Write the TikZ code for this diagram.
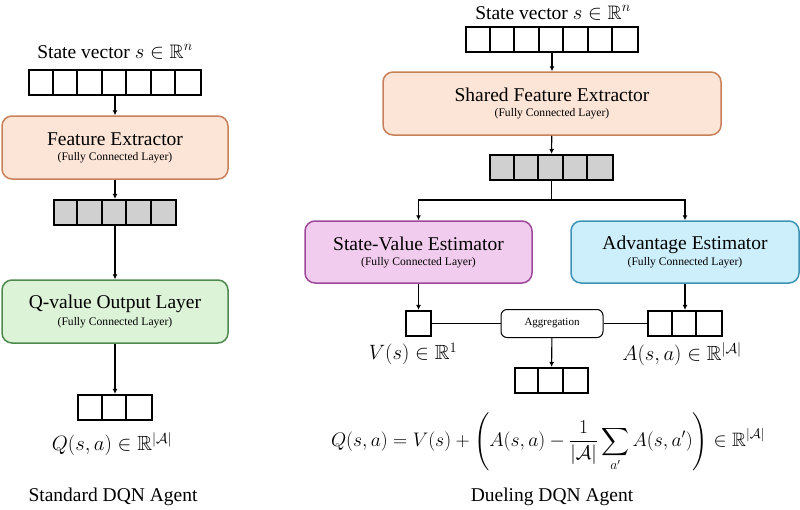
\documentclass[tikz,border=0pt]{standalone}
\usepackage{amsmath}
\usepackage{amssymb}
\usepackage{fontspec}
\setmainfont{Liberation Serif}
\usepackage{xcolor}
\usetikzlibrary{arrows.meta}

\definecolor{featfill}{HTML}{FCE4D6}
\definecolor{featline}{HTML}{C8805A}
\definecolor{qfill}{HTML}{DDF3D8}
\definecolor{qline}{HTML}{4E8A4E}
\definecolor{vfill}{HTML}{F2CCEE}
\definecolor{vline}{HTML}{9B4A9A}
\definecolor{advfill}{HTML}{CDEEFB}
\definecolor{advline}{HTML}{3E93B5}
\definecolor{cellgray}{HTML}{D0D0D0}

% layer box text: big name, small subtitle
\newcommand{\layertext}[1]{{\fontsize{19.5}{22}\selectfont #1}\\[3pt]{\fontsize{11.6}{13}\selectfont (Fully Connected Layer)}}

% vector of n cells: name, x, y, n, fill
\newcommand{\cellvec}[5]{%
  \node[vec, fill=#5, minimum width=#4*24.5pt] (#1) at (#2,#3) {};
  \ifnum#4>1
  \foreach \i in {1,...,\numexpr#4-1\relax}
    \draw[line width=2.2pt] ([xshift=\i*24.5pt]#1.north west) -- ([xshift=\i*24.5pt]#1.south west);
  \fi
}

\begin{document}
\begin{tikzpicture}[
  x=1pt, y=-1pt,
  layer/.style={rectangle, draw, line width=1.5pt, rounded corners=10pt,
                minimum height=63pt, align=center, inner sep=0pt},
  vec/.style={rectangle, draw, line width=2.2pt, minimum height=25pt, inner sep=0pt},
  arrow/.style={-{Latex[length=5pt,width=5pt]}, line width=1.1pt},
  title/.style={font=\fontsize{19.5}{22}\selectfont},
  mathlab/.style={font=\fontsize{20.5}{24}\selectfont},
  sub/.style={font=\fontsize{11}{13}\selectfont}
]
\useasboundingbox (0,0) rectangle (800,509);

% ---- Standard DQN (left column)
\node[title] (lstate) at (115,52) {State vector $s \in \mathbb{R}^n$};
\cellvec{lin}{115}{82.5}{7}{white}
\node[layer, fill=featfill, draw=featline, minimum width=226pt] (lfeat) at (115,147.5)
  {\layertext{Feature Extractor}};
\cellvec{lhid}{115}{212.5}{5}{cellgray}
\node[layer, fill=qfill, draw=qline, minimum width=226pt] (lq) at (115,311.5)
  {\layertext{Q-value Output Layer}};
\cellvec{lout}{115}{407.5}{3}{white}
\node[mathlab] (lqlab) at (112,444) {$Q(s,a) \in \mathbb{R}^{|\mathcal{A}|}$};
\node[title] (lname) at (113,497) {Standard DQN Agent};

\draw[arrow] (lin)   -- (lfeat);
\draw[arrow] (lfeat) -- (lhid);
\draw[arrow] (lhid)  -- (lq);
\draw[arrow] (lq)    -- (lout);

% ---- Dueling DQN (right column)
\node[title] (rstate) at (553,13) {State vector $s \in \mathbb{R}^n$};
\cellvec{rin}{552}{39.5}{7}{white}
\node[layer, fill=featfill, draw=featline, minimum width=338pt] (rfeat) at (552,103.5)
  {\layertext{Shared Feature Extractor}};
\cellvec{rhid}{551.5}{167.5}{5}{cellgray}
\coordinate (split) at (551.5,200);

\node[layer, fill=vfill, draw=vline, minimum width=227pt, minimum height=62pt] (sv) at (418.5,252)
  {\layertext{State-Value Estimator}};
\node[layer, fill=advfill, draw=advline, minimum width=228pt, minimum height=62pt] (adv) at (685,252)
  {\layertext{Advantage Estimator}};

\cellvec{vout}{418.5}{323.5}{1}{white}
\cellvec{aout}{685}{323.5}{3}{white}
\node[rectangle, draw, line width=1pt, rounded corners=6pt, minimum width=102pt,
      minimum height=28pt, inner sep=0pt, sub] (agg) at (552,323.5) {Aggregation};
\cellvec{qout}{551.5}{380.5}{3}{white}

\node[mathlab] (vlab) at (413,354) {$V(s) \in \mathbb{R}^1$};
\node[mathlab] (alab) at (682,354) {$A(s,a) \in \mathbb{R}^{|\mathcal{A}|}$};
\node[mathlab, scale=0.945, transform shape] (qeq) at (548,442)
  {$\displaystyle Q(s,a) = V(s) + \left( A(s,a) - \frac{1}{|\mathcal{A}|}\sum_{a'} A(s,a') \right) \in \mathbb{R}^{|\mathcal{A}|}$};
\node[title] (rname) at (552,497) {Dueling DQN Agent};

\draw[arrow] (rin)   -- (rfeat);
\draw[arrow] (rfeat) -- (rhid);
\draw[line width=1.1pt] (rhid) -- (split);
\draw[arrow] (split) -| (sv);
\draw[arrow] (split) -| (adv);
\draw[arrow] (sv)  -- (vout);
\draw[arrow] (adv) -- (aout);
\draw[line width=1.1pt] (vout) -- (agg);
\draw[line width=1.1pt] (agg)  -- (aout);
\draw[arrow] (agg) -- (qout);
\end{tikzpicture}
\end{document}
